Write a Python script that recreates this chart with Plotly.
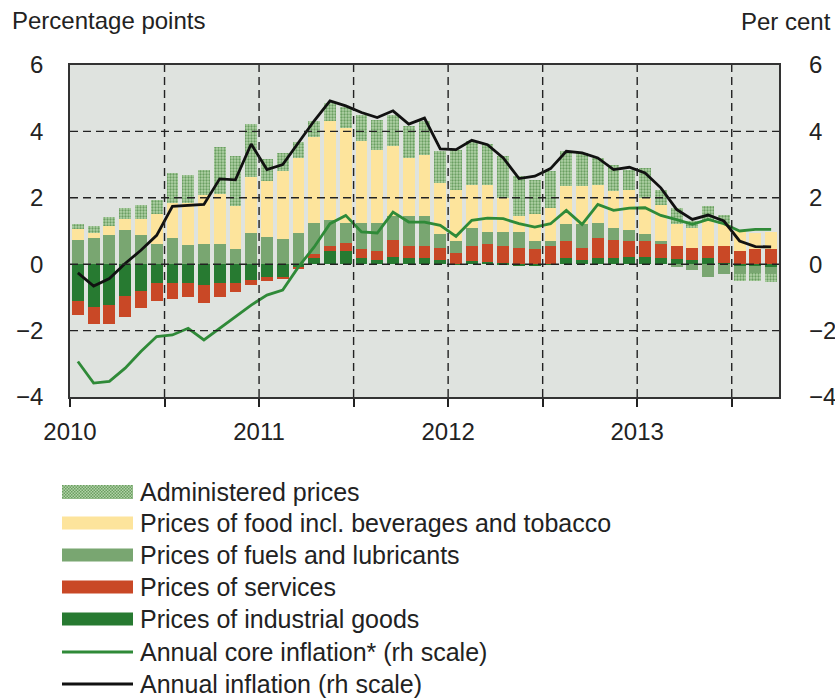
import base64
import plotly.graph_objects as go

# ---------------- data ----------------
months = list(range(45))  # Jan 2010 .. Sep 2013
year_labels = ["2010", "2011", "2012", "2013"]
y_ticks = [-4, -2, 0, 2, 4, 6]

industrial = [-1.10, -1.28, -1.23, -0.96, -0.80, -0.58, -0.58, -0.58, -0.64, -0.58, -0.58, -0.48,
              -0.40, -0.40, -0.10, 0.18, 0.40, 0.40, 0.18, 0.12, 0.23, 0.18, 0.18, 0.12,
              0.02, 0.10, 0.07, 0.03, -0.05, -0.05, 0.02, 0.18, 0.12, 0.18, 0.18, 0.23,
              0.22, 0.18, 0.15, 0.12, 0.18, 0.05, -0.05, -0.05, -0.08]
services = [-0.43, -0.52, -0.57, -0.64, -0.53, -0.53, -0.48, -0.42, -0.52, -0.42, -0.27, -0.16,
            -0.12, -0.05, -0.02, 0.12, 0.15, 0.25, 0.27, 0.28, 0.49, 0.37, 0.37, 0.38,
            0.33, 0.45, 0.55, 0.52, 0.50, 0.45, 0.53, 0.52, 0.38, 0.60, 0.54, 0.47,
            0.48, 0.42, 0.40, 0.36, 0.37, 0.50, 0.40, 0.45, 0.45]
fuels = [0.74, 0.79, 0.89, 1.04, 0.89, 0.62, 0.79, 0.57, 0.62, 0.62, 0.47, 0.95,
         0.82, 0.77, 0.93, 0.93, 0.78, 0.58, 0.78, 0.83, 0.73, 0.90, 0.90, 0.42,
         0.35, 0.55, 0.35, 0.42, 0.47, 0.25, 0.15, 0.50, 0.70, 0.47, 0.36, 0.33,
         0.22, 0.10, -0.08, -0.18, -0.38, -0.28, -0.25, -0.20, -0.22]
food = [0.31, 0.15, 0.26, 0.32, 0.47, 0.90, 1.05, 1.27, 1.45, 1.48, 1.27, 1.69,
        1.68, 2.05, 2.27, 2.59, 2.97, 2.87, 2.49, 2.22, 2.10, 1.75, 1.85, 1.53,
        1.55, 1.30, 1.41, 1.03, 0.48, 0.80, 1.00, 1.15, 1.15, 1.15, 1.12, 1.20,
        1.08, 1.08, 0.65, 0.62, 0.75, 0.65, 0.60, 0.50, 0.53]
administered = [0.17, 0.22, 0.27, 0.33, 0.43, 0.42, 0.90, 0.85, 0.78, 1.44, 1.53, 1.58,
                0.68, 0.53, 0.48, 0.48, 0.55, 0.65, 0.78, 0.90, 0.95, 0.95, 1.00, 0.95,
                1.20, 1.30, 1.24, 1.25, 1.20, 1.05, 1.10, 1.05, 1.00, 0.80, 0.80, 0.62,
                0.90, 0.47, 0.50, 0.20, 0.45, 0.28, -0.20, -0.25, -0.25]
inflation = [-0.26, -0.66, -0.43, 0.02, 0.42, 0.87, 1.74, 1.77, 1.80, 2.57, 2.54, 3.62,
             2.85, 3.00, 3.67, 4.32, 4.92, 4.77, 4.57, 4.42, 4.62, 4.22, 4.40, 3.47,
             3.45, 3.73, 3.60, 3.20, 2.58, 2.65, 2.88, 3.40, 3.35, 3.20, 2.85, 2.92,
             2.75, 2.30, 1.65, 1.35, 1.48, 1.30, 0.70, 0.53, 0.52]
core = [-2.93, -3.58, -3.53, -3.13, -2.63, -2.18, -2.13, -1.93, -2.28, -1.93, -1.58, -1.23,
        -0.93, -0.78, -0.08, 0.52, 1.22, 1.47, 0.97, 0.94, 1.57, 1.27, 1.27, 1.17,
        0.84, 1.32, 1.39, 1.37, 1.22, 1.12, 1.22, 1.62, 1.20, 1.80, 1.62, 1.69,
        1.70, 1.47, 1.34, 1.20, 1.35, 1.22, 1.00, 1.05, 1.05]

legend_labels = ["Administered prices",
                 "Prices of food incl. beverages and tobacco",
                 "Prices of fuels and lubricants",
                 "Prices of services",
                 "Prices of industrial goods",
                 "Annual core inflation* (rh scale)",
                 "Annual inflation (rh scale)"]

# ---------------- style ----------------
FONT = "Liberation Sans, Arial, sans-serif"
FS = 24
FS_LEG = 25
C_IND = "#277a31"
C_SERV = "#c94826"
C_FUEL = "#79a671"
C_FOOD = "#fde49c"
C_ADM_BG = "#b2d3a8"
C_ADM_FG = "#6a9e61"
C_CORE = "#2f8a38"
C_INFL = "#111111"
BG = "#dfe3df"

W, H = 835, 698
# plot frame in pixels: x 70..779, y 65..397
L, R, T, B = 70, W - 779, 65, H - 397
PW, PH = W - L - R, H - T - B

def px_x(X):
    return (X - L) / PW

def px_y(Y):
    return (H - B - Y) / PH

xc = [m + 0.5 for m in months]

fig = go.Figure()
bar_w = 0.75
fig.add_bar(x=xc, y=industrial, marker=dict(color=C_IND, line=dict(width=0)), width=bar_w)
fig.add_bar(x=xc, y=services, marker=dict(color=C_SERV, line=dict(width=0)), width=bar_w)
fig.add_bar(x=xc, y=fuels, marker=dict(color=C_FUEL, line=dict(width=0)), width=bar_w)
fig.add_bar(x=xc, y=food, marker=dict(color=C_FOOD, line=dict(width=0)), width=bar_w)
fig.add_bar(x=xc, y=administered, width=bar_w,
            marker=dict(color=C_ADM_BG, line=dict(width=0),
                        pattern=dict(shape=".", fgcolor=C_ADM_FG, bgcolor=C_ADM_BG,
                                     size=3, solidity=0.45, fillmode="replace")))
fig.add_scatter(x=xc, y=core, mode="lines", yaxis="y2",
                line=dict(color=C_CORE, width=2.8))
fig.add_scatter(x=xc, y=inflation, mode="lines", yaxis="y2",
                line=dict(color=C_INFL, width=2.8))

grid_x = [m for m in months if m % 6 == 0 and m > 0]
grid_y = [v for v in y_ticks if -4 < v < 6]
shapes = []
for gx in grid_x:
    shapes.append(dict(type="line", xref="x", yref="paper", x0=gx, x1=gx, y0=0, y1=1,
                       layer="above", line=dict(color="#222", width=1.4, dash="8px,5px")))
for gy in grid_y:
    shapes.append(dict(type="line", xref="paper", yref="y", x0=0, x1=1, y0=gy, y1=gy,
                       layer="above", line=dict(color="#222", width=1.4, dash="8px,5px")))

# ---------------- custom legend ----------------
rows_px = [492, 523, 555, 587, 619, 652, 684]
sw_x0, sw_x1, sw_h = 62, 133, 13
annotations = []
images = []
swatch_fill = [None, C_FOOD, C_FUEL, C_SERV, C_IND]
for i, (lab, ry) in enumerate(zip(legend_labels, rows_px)):
    annotations.append(dict(text=lab, xref="paper", yref="paper", x=px_x(138), y=px_y(ry),
                            xanchor="left", yanchor="middle", showarrow=False,
                            font=dict(size=FS_LEG, color="#222", family=FONT)))
    if i == 0:
        svg = ("<svg xmlns='http://www.w3.org/2000/svg' width='71' height='14'>"
               "<defs><pattern id='p' width='3' height='3' patternUnits='userSpaceOnUse'>"
               f"<rect width='3' height='3' fill='{C_ADM_BG}'/>"
               f"<rect width='1.5' height='1.5' fill='{C_ADM_FG}'/>"
               f"<rect x='1.5' y='1.5' width='1.5' height='1.5' fill='{C_ADM_FG}'/>"
               "</pattern></defs><rect width='71' height='14' fill='url(#p)'/></svg>")
        src = "data:image/svg+xml;base64," + base64.b64encode(svg.encode()).decode()
        images.append(dict(source=src, xref="paper", yref="paper",
                           x=px_x(sw_x0), y=px_y(ry - 7), sizex=(sw_x1 - sw_x0) / PW,
                           sizey=14 / PH, xanchor="left", yanchor="top", sizing="stretch",
                           layer="above"))
    elif i < 5:
        shapes.append(dict(type="rect", xref="paper", yref="paper",
                           x0=px_x(sw_x0), x1=px_x(sw_x1),
                           y0=px_y(ry - sw_h / 2), y1=px_y(ry + sw_h / 2),
                           fillcolor=swatch_fill[i], line=dict(width=0)))
    else:
        col = C_CORE if i == 5 else C_INFL
        shapes.append(dict(type="line", xref="paper", yref="paper",
                           x0=px_x(sw_x0), x1=px_x(sw_x1), y0=px_y(ry), y1=px_y(ry),
                           line=dict(color=col, width=2.8)))

annotations.append(dict(text="Percentage points", xref="paper", yref="paper",
                        x=px_x(10), y=px_y(20), xanchor="left", yanchor="middle",
                        showarrow=False, font=dict(size=FS, color="#222", family=FONT)))
annotations.append(dict(text="Per cent", xref="paper", yref="paper",
                        x=px_x(833), y=px_y(22), xanchor="right", yanchor="middle",
                        showarrow=False, font=dict(size=FS, color="#222", family=FONT)))

tick_text = [year_labels[m // 12] if m % 12 == 0 else "" for m in range(0, 45, 6)]

fig.update_layout(
    width=W, height=H, barmode="relative", bargap=0,
    margin=dict(l=L, r=R, t=T, b=B, autoexpand=False),
    paper_bgcolor="white", plot_bgcolor=BG, showlegend=False,
    font=dict(family=FONT, size=FS, color="#222"),
    xaxis=dict(range=[0, 45], tickmode="array", tickvals=list(range(0, 45, 6)),
               ticktext=tick_text, ticks="outside", ticklen=8, tickwidth=1.5,
               tickcolor="#222", showgrid=False, zeroline=False, automargin=False,
               showline=True, linecolor="#333", linewidth=1.5, mirror=True,
               ticklabelstandoff=4),
    yaxis=dict(range=[-4, 6], tickvals=y_ticks, showgrid=False, zeroline=False,
               showline=True, linecolor="#333", linewidth=1.5, mirror=True,
               ticks="", ticklabelstandoff=20, automargin=False),
    yaxis2=dict(range=[-4, 6], tickvals=y_ticks, overlaying="y", side="right",
                showgrid=False, zeroline=False, ticks="", ticklabelstandoff=29,
                automargin=False),
    shapes=shapes, annotations=annotations, images=images,
)

# remove the default page margin so the 835x698 figure fills the window exactly
fig.write_html("out.html", config={"displayModeBar": False},
               post_script="document.body.style.margin='0px';"
                           "document.body.style.overflow='hidden';")
